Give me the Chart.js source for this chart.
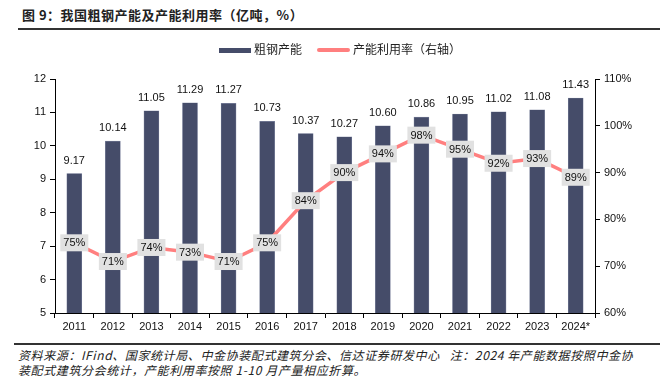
<!DOCTYPE html>
<html><head><meta charset="utf-8">
<script src="https://cdn.jsdelivr.net/npm/chart.js@4/dist/chart.umd.min.js"></script>
<style>
html,body{margin:0;padding:0;background:#fff;width:667px;height:382px;overflow:hidden;position:relative;font-family:"Noto Sans CJK SC","Liberation Sans",sans-serif;}
#title{position:absolute;left:22px;top:5px;font-size:13px;font-weight:bold;color:#222;letter-spacing:0.5px;}
#tline{position:absolute;left:18px;top:28px;width:642px;height:2px;background:#333;}
#legend{position:absolute;top:40px;left:219px;font-size:12px;color:#222;height:18px;}
.sw{position:absolute;top:8px;height:5px;}
.lt{position:absolute;top:0px;white-space:nowrap;line-height:18px;}
#chartwrap{position:absolute;left:0;top:0;width:667px;height:340px;}
#fline{position:absolute;left:14px;top:343px;width:646px;height:2px;background:#333;}
#foot{position:absolute;left:18px;top:347px;width:660px;font-size:12px;font-style:italic;color:#222;line-height:15px;white-space:nowrap;letter-spacing:0.6px;}
</style></head>
<body>
<div id="title">图 9：我国粗钢产能及产能利用率（亿吨，%）</div>
<div id="tline"></div>
<div id="chartwrap"><canvas id="c" width="667" height="340"></canvas></div>
<div id="legend">
  <div class="sw" style="left:0;width:32px;background:#454C69;"></div>
  <div class="lt" style="left:35px;">粗钢产能</div>
  <div class="sw" style="left:98px;width:33px;height:4px;top:8px;background:#FF7F7F;border-radius:2px;"></div>
  <div class="lt" style="left:134px;">产能利用率（右轴）</div>
</div>
<div id="fline"></div>
<div id="foot">资料来源：IFind、国家统计局、中金协装配式建筑分会、信达证券研发中心&nbsp;&nbsp;&nbsp;注：2024 年产能数据按照中金协<br>装配式建筑分会统计，产能利用率按照 1-10 月产量相应折算。</div>
<script>
const categories = ["2011","2012","2013","2014","2015","2016","2017","2018","2019","2020","2021","2022","2023","2024*"];
const capacity = [9.17,10.14,11.05,11.29,11.27,10.73,10.37,10.27,10.60,10.86,10.95,11.02,11.08,11.43];
const utilization = [75,71,74,73,71,75,84,90,94,98,95,92,93,89];
const leftTicks = [5,6,7,8,9,10,11,12];
const rightTicks = [60,70,80,90,100,110];

const labelPlugin = {
  id:'labels',
  afterDatasetsDraw(chart){
    const ctx = chart.ctx;
    ctx.save();
    ctx.font = '11px "Liberation Sans", Arial, sans-serif';
    ctx.textAlign='center';
    ctx.textBaseline='middle';
    const barMeta = chart.getDatasetMeta(0);
    barMeta.data.forEach((el,i)=>{
      ctx.fillStyle='#111';
      ctx.fillText(capacity[i].toFixed(2), el.x, el.y-13);
    });
    const lineMeta = chart.getDatasetMeta(1);
    lineMeta.data.forEach((el,i)=>{
      const t = utilization[i]+'%';
      const w = ctx.measureText(t).width+6;
      const h = 17;
      ctx.fillStyle='#E1E1E1';
      ctx.fillRect(el.x-w/2, el.y-h/2, w, h);
      ctx.fillStyle='#111';
      ctx.fillText(t, el.x, el.y+0.5);
    });
    ctx.restore();
  }
};

new Chart(document.getElementById('c'),{
  data:{
    labels:categories,
    datasets:[
      {type:'bar',label:'粗钢产能',data:capacity,backgroundColor:'#454C69',borderColor:'#7A819C',borderWidth:0.6,barThickness:15,yAxisID:'y',order:1},
      {type:'line',label:'产能利用率（右轴）',data:utilization,borderColor:'#FF7F7F',borderWidth:3.5,pointRadius:0,tension:0,yAxisID:'y1',order:0}
    ]
  },
  options:{
    responsive:false,animation:false,
    layout:{padding:{top:79,left:0,right:0,bottom:0}},
    plugins:{legend:{display:false},tooltip:{enabled:false}},
    scales:{
      x:{
        grid:{display:true,drawOnChartArea:false,drawTicks:true,tickLength:5,color:'#000',offset:true},
        border:{color:'#000',width:1},
        ticks:{color:'#111',font:{family:'"Liberation Sans", Arial',size:11},maxRotation:0,padding:2},
        afterFit(s){s.height=27;}
      },
      y:{
        position:'left',min:5,max:12,
        afterBuildTicks(s){s.ticks=leftTicks.map(v=>({value:v}));},
        grid:{drawOnChartArea:false,tickLength:5,color:'#000'},
        border:{color:'#000',width:1},
        ticks:{color:'#111',font:{family:'"Liberation Sans", Arial',size:11},padding:4},
        afterFit(s){s.width=55;}
      },
      y1:{
        position:'right',min:60,max:110,
        afterBuildTicks(s){s.ticks=rightTicks.map(v=>({value:v}));},
        grid:{drawOnChartArea:false,tickLength:5,color:'#000'},
        border:{color:'#000',width:1},
        ticks:{color:'#111',font:{family:'"Liberation Sans", Arial',size:11},padding:4,callback:v=>v+'%'},
        afterFit(s){s.width=72;}
      }
    }
  },
  plugins:[labelPlugin]
});
</script>
</body></html>
